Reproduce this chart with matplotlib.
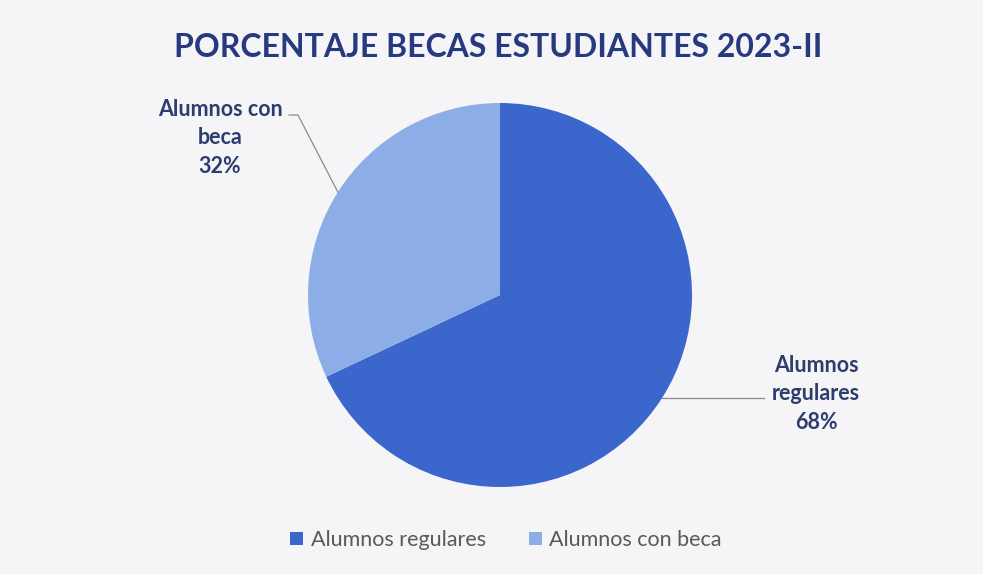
import numpy as np
import matplotlib.pyplot as plt

categorias = ["Alumnos regulares", "Alumnos con beca"]
porcentajes = [68, 32]
colores = ["#3b66cb", "#8dade6"]
etiquetas = ["Alumnos\nregulares\n68%", "Alumnos con\nbeca\n32%"]
titulo = "PORCENTAJE BECAS ESTUDIANTES 2023-II"

W, H = 983, 574
R = 192.0  # radio del pie en pixeles
cx, cy = 500, 295

fig = plt.figure(figsize=(W / 100, H / 100), dpi=100)
fig.patch.set_facecolor("#f5f5f7")
ax = fig.add_axes([0, 0, 1, 1])
ax.set_facecolor("#f5f5f7")

wedges, _ = ax.pie(porcentajes, colors=colores, startangle=90, counterclock=False,
                   radius=1.0, wedgeprops=dict(linewidth=0))

# coordenadas de datos: 1 unidad = radio, origen en el centro del pie
ax.set_xlim(-cx / R, (W - cx) / R)
ax.set_ylim(-(H - cy) / R, cy / R)
ax.set_aspect("equal")
ax.axis("off")

fuente = ["Lato", "DejaVu Sans"]
ax.text((498 - cx) / R, (cy - 48) / R, titulo, ha="center", va="center",
        fontsize=23, fontweight="bold", color="#27397f", family=fuente)

# puntos de las guias sobre el borde de cada porcion
pos_texto = [((816 - cx) / R, (cy - 394) / R), ((220 - cx) / R, (cy - 138) / R)]
for i, w in enumerate(wedges):
    ang = np.deg2rad((w.theta1 + w.theta2) / 2)
    px, py = np.cos(ang), np.sin(ang)
    tx, ty = pos_texto[i]
    ax.text(tx, ty, etiquetas[i], ha="center", va="center", fontsize=15.5,
            fontweight="bold", color="#2e3c6e", family=fuente, linespacing=1.45)
    if i == 0:
        ax.plot([px, (764 - cx) / R], [py, py], color="#8c8c8c", lw=0.9)
    else:
        ex, ey = (298 - cx) / R, (cy - 115) / R
        ax.plot([(289 - cx) / R, ex, px], [ey, ey, py], color="#8c8c8c", lw=0.9)

leg = ax.legend(wedges, categorias, loc="center", bbox_to_anchor=(506 / W, 1 - 540 / H),
                ncol=2, frameon=False, handlelength=0.6, handleheight=0.6,
                columnspacing=2.0, handletextpad=0.35,
                prop=dict(family=fuente, size=15.5))
for t in leg.get_texts():
    t.set_color("#595959")

fig.savefig("out.png", dpi=100, facecolor=fig.get_facecolor())
